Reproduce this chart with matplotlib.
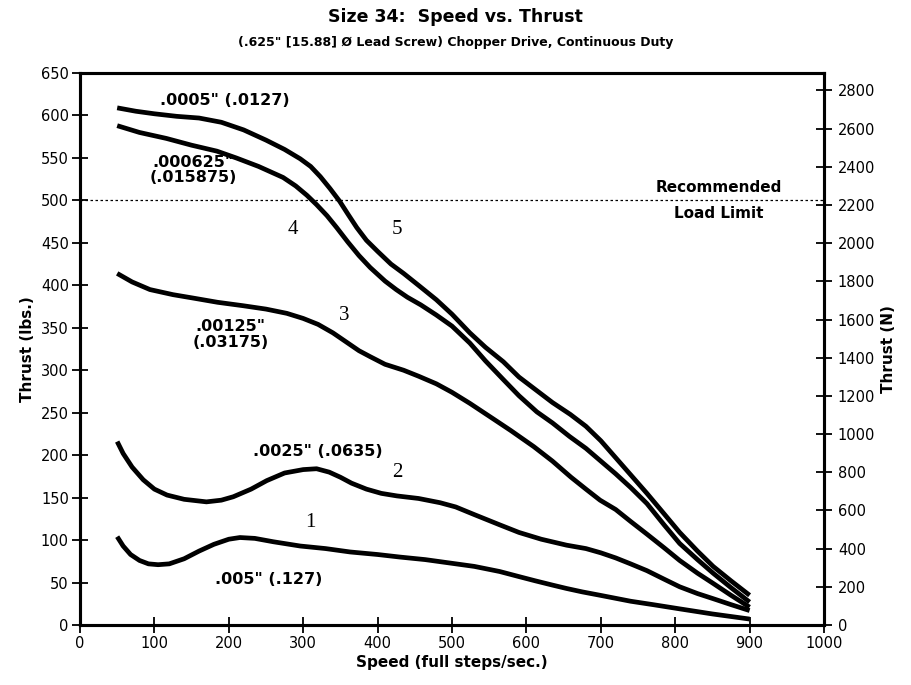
import matplotlib
matplotlib.use("Agg")
import matplotlib.pyplot as plt

plt.rcParams['font.family'] = ['DejaVu Sans']

# ---- data (speed in full steps/sec, thrust in lbs) ----
c5_x = [50, 75, 100, 130, 160, 190, 220, 250, 275, 296, 310, 323, 336, 349, 360, 372, 385, 400, 418, 435, 455, 479, 500, 524, 545, 569, 590, 614, 635, 659, 680, 700, 720, 740, 762, 785, 806, 830, 851, 875, 900]
c5_y = [609, 605, 602, 599, 597, 592, 583, 571, 560, 549, 540, 528, 514, 499, 484, 468, 453, 440, 425, 414, 400, 383, 366, 344, 327, 310, 292, 276, 262, 248, 234, 217, 197, 177, 155, 131, 109, 87, 69, 52, 35]

c4_x = [50, 80, 116, 150, 184, 210, 240, 273, 290, 305, 318, 332, 345, 360, 375, 390, 410, 425, 440, 458, 479, 500, 524, 545, 569, 590, 614, 635, 658, 680, 700, 720, 740, 762, 785, 806, 830, 851, 875, 900]
c4_y = [588, 580, 573, 565, 558, 550, 540, 527, 517, 506, 495, 482, 468, 451, 435, 421, 405, 395, 386, 377, 365, 352, 332, 311, 289, 270, 251, 238, 222, 208, 193, 178, 162, 143, 118, 96, 77, 61, 44, 27]

c3_x = [50, 70, 94, 125, 152, 185, 219, 250, 278, 300, 320, 340, 360, 375, 390, 410, 435, 455, 479, 500, 524, 555, 579, 610, 635, 660, 680, 699, 720, 740, 762, 785, 806, 830, 851, 875, 900]
c3_y = [414, 404, 395, 389, 385, 380, 376, 372, 367, 361, 354, 344, 332, 323, 316, 307, 300, 293, 284, 274, 261, 243, 229, 210, 193, 174, 160, 147, 136, 122, 107, 91, 76, 61, 49, 35, 21]

c2_x = [50, 58, 70, 85, 100, 117, 140, 170, 190, 206, 230, 251, 275, 300, 318, 335, 350, 365, 385, 405, 426, 455, 484, 505, 530, 564, 590, 620, 654, 680, 700, 720, 740, 762, 785, 806, 830, 851, 875, 900]
c2_y = [216, 202, 186, 171, 160, 153, 148, 145, 147, 151, 160, 170, 179, 183, 184, 180, 174, 167, 160, 155, 152, 149, 144, 139, 130, 118, 109, 101, 94, 90, 85, 79, 72, 64, 54, 45, 37, 31, 24, 17]

c1_x = [50, 58, 68, 80, 92, 105, 120, 140, 160, 180, 200, 215, 235, 260, 296, 330, 363, 400, 430, 464, 497, 530, 564, 590, 612, 635, 654, 675, 699, 740, 770, 806, 850, 900]
c1_y = [104, 93, 83, 76, 72, 71, 72, 78, 87, 95, 101, 103, 102, 98, 93, 90, 86, 83, 80, 77, 73, 69, 63, 57, 52, 47, 43, 39, 35, 28, 24, 19, 13, 7]

load_limit = 500
x_ticks = list(range(0, 1001, 100))
left_ticks = list(range(0, 651, 50))
right_ticks = list(range(0, 2801, 200))
LBF_TO_N = 4.448

fig = plt.figure(figsize=(9.11, 6.85), dpi=100)
ax = fig.add_axes([0.0878, 0.0876, 0.8167, 0.8058])

for xs, ys in [(c1_x, c1_y), (c2_x, c2_y), (c3_x, c3_y), (c4_x, c4_y), (c5_x, c5_y)]:
    ax.plot(xs, ys, color='black', lw=3.4, solid_capstyle='butt', solid_joinstyle='round')

ax.axhline(load_limit, color='black', lw=0.9, ls=(0, (2, 2)))

ax.set_xlim(0, 1000)
ax.set_ylim(0, 650)
ax.set_xticks(x_ticks)
ax.set_yticks(left_ticks)
ax.tick_params(axis='both', direction='inout', length=12, width=1.3, labelsize=10.5, pad=2)
for s in ax.spines.values():
    s.set_linewidth(2.2)

ax2 = ax.twinx()
ax2.set_ylim(0, 650 * LBF_TO_N)
ax2.set_yticks(right_ticks)
ax2.tick_params(axis='y', direction='inout', length=12, width=1.3, labelsize=10.5, pad=4)
for s in ax2.spines.values():
    s.set_linewidth(2.2)

ax.set_xlabel('Speed (full steps/sec.)', fontsize=11, fontweight='bold', labelpad=3)
ax.set_ylabel('Thrust (lbs.)', fontsize=11, fontweight='bold', labelpad=4)
ax2.set_ylabel('Thrust (N)', fontsize=11, fontweight='bold', labelpad=4)

fig.text(0.5, 0.975, 'Size 34:  Speed vs. Thrust', ha='center', va='center',
         fontsize=12.5, fontweight='bold')
fig.text(0.5, 0.938, '(.625" [15.88] Ø Lead Screw) Chopper Drive, Continuous Duty',
         ha='center', va='center', fontsize=9, fontweight='bold')

lab = dict(fontsize=11.5, fontweight='bold', ha='center', va='center')
ax.text(195, 618, '.0005" (.0127)', **lab)
ax.text(152, 536, '.000625"\n(.015875)', linespacing=1.05, **lab)
ax.text(202, 342, '.00125"\n(.03175)', linespacing=1.05, **lab)
ax.text(320, 204, '.0025" (.0635)', **lab)
ax.text(253, 53, '.005" (.127)', **lab)

num = dict(fontsize=15, family='Liberation Serif', ha='center', va='center')
ax.text(309, 121, '1', **num)
ax.text(426, 180, '2', **num)
ax.text(355, 364, '3', **num)
ax.text(286, 466, '4', **num)
ax.text(426, 466, '5', **num)

ax.text(859, 515, 'Recommended', fontsize=11, fontweight='bold', ha='center', va='center')
ax.text(859, 485, 'Load Limit', fontsize=11, fontweight='bold', ha='center', va='center')

fig.savefig('out.png', dpi=100)
